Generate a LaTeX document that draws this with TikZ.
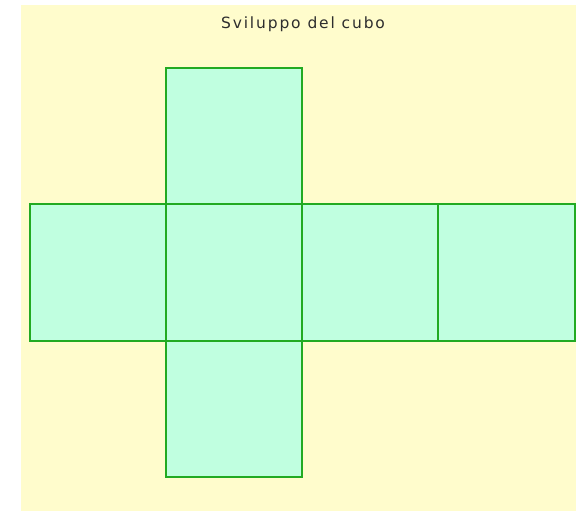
\documentclass[tikz,border=0pt]{standalone}
\usepackage{fontspec}
\newfontfamily\titlefont[LetterSpace=12]{DejaVu Sans}
\usetikzlibrary{positioning}
\definecolor{sfondo}{RGB}{255,252,204}
\definecolor{faccia}{RGB}{192,255,224}
\definecolor{bordo}{RGB}{34,170,34}

\begin{document}
\begin{tikzpicture}
[x=1pt,y=-1pt,face/.style = {draw=bordo, fill = faccia, line width = 2pt, minimum size = 136.25pt, inner sep = 0pt, outer sep = 0pt},]
\useasboundingbox (0,0) rectangle (576,511);
\fill[sfondo] (21,5) rectangle (576,511);

\node (titolo) at (303,24.5) {\titlefont\fontsize{15.5}{17}\selectfont\color[RGB]{45,45,45}Sviluppo del cubo};

\node (A) at (233.875,272.375)[face] {};
\node (B) [face, left=0pt of A] {};
\node (C) [face, right=0pt of A] {};
\node (D) [face, right=0pt of C] {};
\node (E) [face, above=0pt of A] {};
\node (F) [face, below=0pt of A] {};

\end{tikzpicture}
\end{document}
